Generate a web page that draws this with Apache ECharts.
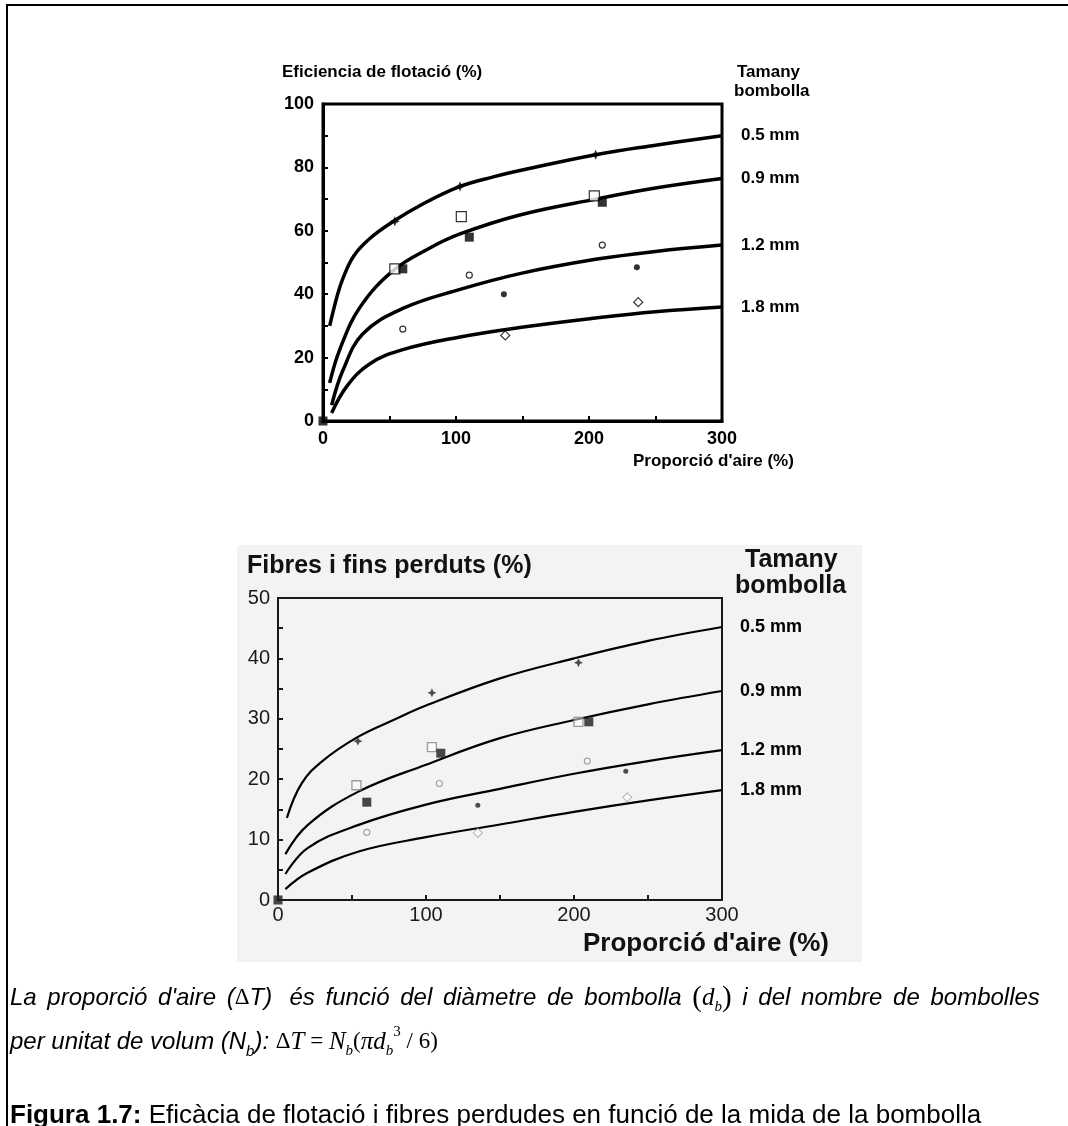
<!DOCTYPE html>
<html>
<head>
<meta charset="utf-8">
<title>Figura 1.7</title>
<script src="https://cdn.jsdelivr.net/npm/echarts@6.0.0/dist/echarts.min.js"></script>
<style>
  html, body { margin: 0; padding: 0; background: #fff; }
  #main { width: 1068px; height: 1126px; }
</style>
</head>
<body>
<div id="main"></div>
<script>
// etiquetes dels eixos
const ticsX = [0, 100, 200, 300];
const ticsYSup = [0, 20, 40, 60, 80, 100];
const ticsYInf = [0, 10, 20, 30, 40, 50];
const mides = ['0.5 mm', '0.9 mm', '1.2 mm', '1.8 mm'];

// Eficiencia de flotació: corbes llegides del gràfic [aire %, eficiència %]
const sup05 = [[5, 30], [11, 40], [15, 45], [23, 52], [35, 57.5], [53, 63], [73, 68], [103, 74], [128, 77], [148, 79], [205, 84], [250, 87], [300, 90]];
const sup09 = [[5, 12], [13, 23], [28, 36], [53, 47.5], [80, 54.5], [103, 59], [148, 65], [205, 70], [250, 73.5], [300, 76.5]];
const sup12 = [[6.5, 5], [15, 16], [30, 27.5], [60, 35.5], [103, 41.5], [148, 46.5], [205, 51], [250, 53.5], [300, 55.5]];
const sup18 = [[6.5, 2.5], [18, 11], [35, 18], [60, 22.5], [103, 26.5], [148, 29.5], [205, 32.5], [250, 34.5], [300, 36]];
// punts experimentals
const supEstrella = [[54, 63], [103, 74], [205, 84]];
const supQuadObert = [[54, 48], [104, 64.5], [204, 71]];
const supQuadPle = [[0, 0], [60, 48], [110, 58], [210, 69]];
const supCercle = [[60, 29], [110, 46], [210, 55.5]];
const supPunt = [[136, 40], [236, 48.5]];
const supDiamant = [[137, 27], [237, 37.5]];

// Fibres i fins perduts
const inf05 = [[6, 13.6], [16, 19.3], [30, 23], [54, 27], [78, 29.8], [100, 32.2], [150, 36.7], [200, 40], [250, 42.9], [300, 45.2]];
const inf09 = [[5, 7.6], [20, 12.4], [54, 17.9], [100, 22.4], [150, 26.8], [200, 29.8], [250, 32.4], [300, 34.6]];
const inf12 = [[5, 4.3], [20, 8.6], [54, 12.4], [100, 15.8], [150, 18.4], [200, 20.9], [250, 23], [300, 24.8]];
const inf18 = [[5, 1.8], [20, 4.5], [54, 8], [100, 10.4], [150, 12.5], [200, 14.6], [250, 16.5], [300, 18.2]];
const infEstrella = [[54, 26.3], [104, 34.3], [203, 39.3]];
const infQuadObert = [[53, 19], [104, 25.3], [203, 29.5]];
const infQuadPle = [[0, 0], [60, 16.2], [110, 24.3], [210, 29.5]];
const infCercle = [[60, 11.2], [109, 19.3], [209, 23]];
const infPunt = [[135, 15.7], [235, 21.3]];
const infDiamant = [[135, 11.1], [236, 17]];

const SANS = '"Liberation Sans", Arial, sans-serif';
const SERIF = '"Liberation Serif", "Times New Roman", serif';
const ESTRELLA = 'path://M5,0L6.6,3.4L10,5L6.6,6.6L5,10L3.4,6.6L0,5L3.4,3.4Z';

const chart = echarts.init(document.getElementById('main'), null, { renderer: 'canvas' });

function corba(dades, etiqueta, idx, gruix, mida, pes, dist) {
  return {
    type: 'line',
    xAxisIndex: idx,
    yAxisIndex: idx,
    data: dades,
    smooth: 0.4,
    showSymbol: false,
    silent: true,
    lineStyle: { color: '#000', width: gruix },
    endLabel: {
      show: true,
      formatter: etiqueta,
      distance: dist,
      color: '#000',
      fontFamily: SANS,
      fontSize: mida,
      fontWeight: pes
    },
    z: 3
  };
}

function punts(dades, idx, simbol, mida, ple, vora, gruix) {
  return {
    type: 'scatter',
    xAxisIndex: idx,
    yAxisIndex: idx,
    data: dades,
    symbol: simbol,
    symbolSize: mida,
    silent: true,
    itemStyle: { color: ple, borderColor: vora, borderWidth: gruix },
    z: 4
  };
}

function eixX(idx, gruix, color, mida, pes, marge) {
  return {
    gridIndex: idx, type: 'value', min: 0, max: 300, interval: 50,
    axisLine: { show: true, onZero: false, lineStyle: { color: color, width: gruix } },
    axisTick: { show: true, inside: true, length: 5, lineStyle: { color: color, width: 2 } },
    axisLabel: {
      formatter: v => ticsX.indexOf(v) >= 0 ? String(v) : '',
      color: color, fontFamily: SANS, fontSize: mida, fontWeight: pes, margin: marge
    },
    splitLine: { show: false }
  };
}

function eixY(idx, max, pas, tics, gruix, color, mida, pes, marge) {
  return {
    gridIndex: idx, type: 'value', min: 0, max: max, interval: pas,
    axisLine: { show: true, onZero: false, lineStyle: { color: color, width: gruix } },
    axisTick: { show: true, inside: true, length: 5, lineStyle: { color: color, width: 2 } },
    axisLabel: {
      formatter: v => tics.indexOf(v) >= 0 ? String(v) : '',
      color: color, fontFamily: SANS, fontSize: mida, fontWeight: pes, margin: marge
    },
    splitLine: { show: false }
  };
}

function text(x, y, t, mida, pes, color) {
  return {
    type: 'text', x: x, y: y, silent: true,
    style: { text: t, fill: color || '#000', font: (pes || 'normal') + ' ' + mida + 'px ' + SANS, textVerticalAlign: 'middle' }
  };
}

// peu de figura amb subíndexs
const lh = 34;
const rich = {
  a: { fontFamily: SANS, fontStyle: 'italic', fontSize: 24, color: '#000', lineHeight: lh },
  g: { fontFamily: SANS, fontSize: 24, color: '#000', lineHeight: lh, padding: [0, 4, 0, 0] },
  as: { fontFamily: SANS, fontStyle: 'italic', fontSize: 15, color: '#000', lineHeight: 18, verticalAlign: 'bottom' },
  fu: { fontFamily: SERIF, fontSize: 23, color: '#000', lineHeight: lh },
  f: { fontFamily: SERIF, fontStyle: 'italic', fontSize: 25, color: '#000', lineHeight: lh },
  pg: { fontFamily: SERIF, fontSize: 29, color: '#000', lineHeight: lh },
  sb: { fontFamily: SERIF, fontStyle: 'italic', fontSize: 15, color: '#000', lineHeight: 15, verticalAlign: 'bottom' },
  sp: { fontFamily: SERIF, fontSize: 15, color: '#000', lineHeight: 15, verticalAlign: 'top' },
  b: { fontFamily: SANS, fontWeight: 'bold', fontSize: 26, color: '#000', lineHeight: lh },
  r: { fontFamily: SANS, fontSize: 26, color: '#000', lineHeight: lh }
};

// la primera línia està justificada: espais una mica més amples
const paraules1 = ['La', 'proporció', "d'aire", '(', 'ΔT)', ' és', 'funció', 'del', 'diàmetre', 'de', 'bombolla'];
function justifica(paraules) {
  return paraules.map(function (p) {
    if (p === '(') return '{a|(}';
    if (p === 'ΔT)') return '{fu|Δ}{a|T)}{g| }';
    return '{a|' + p + '}{g| }';
  }).join('');
}
const textLinia1 = justifica(paraules1) + '{pg|(}{f|d}{sb|b}{pg|)}{g| }' +
  ['i', 'del', 'nombre', 'de'].map(p => '{a|' + p + '}{g| }').join('') + '{a|bombolles}';

const option = {
  backgroundColor: '#fff',
  animation: false,
  grid: [
    { left: 323, top: 104, width: 399, height: 317, show: true, borderColor: '#000', borderWidth: 3, backgroundColor: 'transparent' },
    { left: 278, top: 598, width: 444, height: 302, show: true, borderColor: '#1a1a1a', borderWidth: 2, backgroundColor: 'transparent' }
  ],
  xAxis: [
    eixX(0, 3, '#000', 18, 'bold', 9),
    eixX(1, 2, '#1a1a1a', 20, 'normal', 5)
  ],
  yAxis: [
    eixY(0, 100, 10, ticsYSup, 3, '#000', 18, 'bold', 9),
    eixY(1, 50, 5, ticsYInf, 2, '#1a1a1a', 20, 'normal', 8)
  ],
  graphic: [
    // marc de la figura
    { type: 'rect', z: -20, silent: true, shape: { x: 7, y: 5, width: 1120, height: 1200 }, style: { fill: 'none', stroke: '#000', lineWidth: 2 } },
    // fons de la imatge escanejada
    { type: 'rect', z: -10, silent: true, shape: { x: 237, y: 545, width: 625, height: 417 }, style: { fill: '#f3f3f3' } },
    text(282, 72, 'Eficiencia de flotació (%)', 17, 'bold'),
    text(737, 72, 'Tamany', 17, 'bold'),
    text(734, 91, 'bombolla', 17, 'bold'),
    text(633, 461, "Proporció d'aire (%)", 17, 'bold'),
    text(247, 566, 'Fibres i fins perduts (%)', 25, 'bold', '#111'),
    text(745, 560, 'Tamany', 25, 'bold', '#111'),
    text(735, 586, 'bombolla', 25, 'bold', '#111'),
    text(583, 944, "Proporció d'aire (%)", 26, 'bold', '#111'),
    {
      type: 'text', x: 10, y: 998, silent: true,
      style: { text: textLinia1, rich: rich, textVerticalAlign: 'middle' }
    },
    {
      type: 'text', x: 10, y: 1042, silent: true,
      style: {
        text: '{a|per unitat de volum (N}{as|b}{a|): }{fu|Δ}{f|T}{fu| = }{f|N}{sb|b}{fu|(}{f|πd}{sb|b}{sp|3}{fu| / 6)}',
        rich: rich, textVerticalAlign: 'middle'
      }
    },
    {
      type: 'text', x: 10, y: 1116, silent: true,
      style: {
        text: '{b|Figura 1.7:}{r| Eficàcia de flotació i fibres perdudes en funció de la mida de la bombolla}',
        rich: rich, textVerticalAlign: 'middle'
      }
    }
  ],
  series: [
    corba(sup05, mides[0], 0, 3.5, 17, 'bold', 19),
    corba(sup09, mides[1], 0, 3.5, 17, 'bold', 19),
    corba(sup12, mides[2], 0, 3.5, 17, 'bold', 19),
    corba(sup18, mides[3], 0, 3.5, 17, 'bold', 19),
    punts(supEstrella, 0, ESTRELLA, 10, '#000', '#000', 0),
    punts(supQuadObert, 0, 'rect', 10, '#fff', '#000', 1.2),
    punts(supQuadPle, 0, 'rect', 9, '#000', '#000', 0),
    punts(supCercle, 0, 'circle', 6, '#fff', '#000', 1.2),
    punts(supPunt, 0, 'circle', 6, '#000', '#000', 0),
    punts(supDiamant, 0, 'diamond', 9, '#fff', '#000', 1.2),

    corba(inf05, mides[0], 1, 2.2, 18, 'bold', 18),
    corba(inf09, mides[1], 1, 2.2, 18, 'bold', 18),
    corba(inf12, mides[2], 1, 2.2, 18, 'bold', 18),
    corba(inf18, mides[3], 1, 2.2, 18, 'bold', 18),
    punts(infEstrella, 1, ESTRELLA, 9, '#222', '#222', 0),
    punts(infQuadObert, 1, 'rect', 9, 'rgba(255,255,255,0.6)', '#7a8a7a', 1.3),
    punts(infQuadPle, 1, 'rect', 9, '#1a1a1a', '#1a1a1a', 0),
    punts(infCercle, 1, 'circle', 6, 'rgba(255,255,255,0.6)', '#888', 1.1),
    punts(infPunt, 1, 'circle', 5, '#222', '#222', 0),
    punts(infDiamant, 1, 'diamond', 9, 'rgba(255,255,255,0.6)', '#aaa', 1.1)
  ]
};

chart.setOption(option);
</script>
</body>
</html>
